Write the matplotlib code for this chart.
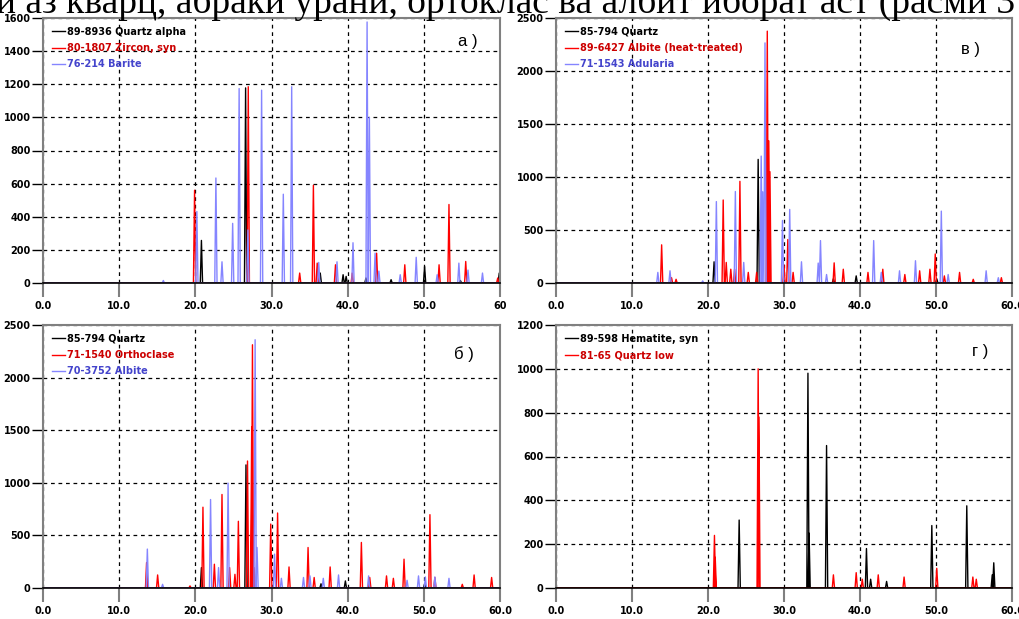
import matplotlib
matplotlib.use('Agg')
import matplotlib.pyplot as plt

# ---- peak lists (2theta, intensity) ----
# a) quartz / zircon / baryte
a_qtz_pos = [20.8, 26.6, 36.4, 39.4, 39.8, 42.4, 45.7, 50.1, 54.8, 59.9]
a_qtz_int = [257, 1178, 60, 50, 40, 30, 20, 100, 15, 60]
a_zrc_pos = [19.9, 26.95, 33.7, 35.5, 36.0, 38.4, 40.6, 43.8, 47.5, 52.0, 53.3, 55.5, 59.7]
a_zrc_int = [560, 1185, 60, 590, 120, 110, 60, 180, 110, 110, 474, 130, 30]
a_brt_pos = [15.8, 20.2, 22.7, 23.5, 24.9, 25.75, 26.9, 28.7, 31.55, 32.65, 36.2, 38.6,
             40.7, 42.55, 42.85, 43.6, 44.1, 46.9, 49.0, 51.75, 54.6, 55.8, 57.7]
a_brt_int = [15, 432, 634, 128, 360, 1174, 320, 1164, 536, 1185, 124, 128,
             243, 1576, 1000, 180, 72, 50, 155, 50, 120, 78, 60]

# в) quartz / albite (heat-treated) / adularia
b_qtz_pos = [20.8, 26.6, 36.5, 39.5, 50.1]
b_qtz_int = [200, 1166, 40, 67, 40]
b_alb_pos = [13.9, 15.2, 15.8, 22.0, 22.4, 23.0, 23.5, 24.2, 25.3, 26.4, 27.8, 28.0, 28.15,
             30.0, 30.5, 31.2, 36.6, 37.8, 41.05, 43.0, 45.9, 47.85, 49.2, 49.9, 51.1,
             53.1, 54.9, 58.6]
b_alb_int = [360, 50, 35, 783, 194, 130, 130, 959, 100, 100, 2376, 1341, 1050,
             170, 410, 100, 190, 130, 100, 130, 80, 115, 130, 274, 67,
             100, 35, 50]
b_adu_pos = [13.4, 15.0, 19.3, 21.1, 23.6, 24.7, 27.0, 27.2, 27.5, 29.8, 30.75, 32.3,
             34.5, 34.8, 35.6, 41.8, 42.8, 45.2, 47.3, 50.7, 51.6, 56.6, 58.2]
b_adu_int = [100, 115, 20, 768, 863, 194, 1197, 860, 2265, 590, 694, 200,
             188, 400, 80, 400, 100, 115, 210, 678, 80, 115, 50]

# б) quartz / orthoclase / albite
c_qtz_pos = [20.8, 26.65, 36.5, 39.7, 50.1]
c_qtz_int = [194, 1170, 40, 67, 40]
c_ort_pos = [13.6, 15.05, 19.3, 21.0, 22.5, 23.5, 24.5, 25.2, 25.65, 26.85, 27.4, 27.5,
             27.7, 29.9, 30.8, 32.3, 34.8, 35.6, 37.7, 41.8, 42.9, 45.1, 46.0, 47.4,
             50.8, 51.45, 55.05, 56.6, 58.9]
c_ort_int = [242, 124, 20, 768, 226, 889, 194, 130, 634, 1207, 1532, 2312,
             194, 608, 713, 200, 385, 100, 200, 433, 100, 115, 92, 274,
             697, 100, 35, 124, 100]
c_alb_pos = [13.7, 15.7, 22.0, 23.05, 24.3, 27.85, 28.1, 30.4, 31.3, 34.2, 35.05, 36.8,
             38.8, 42.75, 47.8, 49.3, 50.2, 51.45, 53.3]
c_alb_int = [370, 35, 841, 194, 997, 2360, 385, 322, 92, 100, 115, 92,
             124, 115, 73, 115, 105, 105, 92]

# г) hematite / quartz low
d_hem_pos = [24.1, 33.15, 33.3, 35.6, 40.85, 41.4, 43.5, 49.45, 54.05, 57.4, 57.6]
d_hem_int = [310, 980, 250, 650, 180, 40, 30, 285, 375, 60, 115]
d_qtz_pos = [20.85, 20.95, 26.6, 26.7, 36.5, 39.5, 40.3, 42.4, 45.8, 50.1, 54.85, 55.3]
d_qtz_int = [240, 140, 1000, 780, 60, 70, 40, 60, 50, 90, 50, 40]

x_ticks = [0, 10, 20, 30, 40, 50, 60]


def profile(pos, inten, w=0.15):
    xs, ys = [0.0], [0.0]
    for p, h in sorted(zip(pos, inten)):
        xs += [p - w, p, p + w]
        ys += [0, h, 0]
    xs.append(60.0)
    ys.append(0.0)
    return xs, ys


fig = plt.figure(figsize=(10.2, 6.19), dpi=100)
W, H = 1020, 619


def make_ax(l, t, r, b):
    return fig.add_axes([l / W, 1 - b / H, (r - l) / W, (b - t) / H])


panels = [
    # rect, ymax, ystep, series, label, label position, last x label
    ((43, 18, 500, 283), 1600, 200,
     [(a_qtz_pos, a_qtz_int, 'black', '89-8936 Quartz alpha', 'black'),
      (a_zrc_pos, a_zrc_int, 'red', '80-1807 Zircon, syn', '#cc0000'),
      (a_brt_pos, a_brt_int, '#8585ff', '76-214 Barite', '#4444cc')],
     'а )', (0.93, 0.91), '60'),
    ((556, 18, 1012, 283), 2500, 500,
     [(b_qtz_pos, b_qtz_int, 'black', '85-794 Quartz', 'black'),
      (b_alb_pos, b_alb_int, 'red', '89-6427 Albite (heat-treated)', '#cc0000'),
      (b_adu_pos, b_adu_int, '#8585ff', '71-1543 Adularia', '#4444cc')],
     'в )', (0.91, 0.88), '60.0'),
    ((43, 325, 500, 588), 2500, 500,
     [(c_qtz_pos, c_qtz_int, 'black', '85-794 Quartz', 'black'),
      (c_ort_pos, c_ort_int, 'red', '71-1540 Orthoclase', '#cc0000'),
      (c_alb_pos, c_alb_int, '#8585ff', '70-3752 Albite', '#4444cc')],
     'б )', (0.92, 0.89), '60.0'),
    ((556, 325, 1012, 588), 1200, 200,
     [(d_hem_pos, d_hem_int, 'black', '89-598 Hematite, syn', 'black'),
      (d_qtz_pos, d_qtz_int, 'red', '81-65 Quartz low', '#cc0000')],
     'г )', (0.93, 0.90), '60.0'),
]

for rect, ymax, ystep, series, lab, lpos, last in panels:
    ax = make_ax(*rect)
    for pos, inten, col, name, tcol in series:
        xs, ys = profile(pos, inten)
        ax.plot(xs, ys, color=col, lw=1.0, label=name)
    ax.set_xlim(0, 60)
    ax.set_ylim(0, ymax)
    ax.set_xticks(x_ticks)
    ax.set_xticklabels(['%.1f' % v for v in x_ticks[:-1]] + [last])
    ax.set_yticks(range(0, ymax + 1, ystep))
    ax.grid(True, color='black', linestyle=(0, (3, 3)), lw=0.9)
    ax.tick_params(axis='x', direction='out', length=10, width=1.5, color='#808080',
                   labelsize=7, pad=3)
    ax.tick_params(axis='y', direction='out', length=8, width=1.0, color='black',
                   labelsize=7, pad=1)
    for t in ax.get_xticklabels() + ax.get_yticklabels():
        t.set_fontweight('bold')
    for s in ['left', 'top', 'right']:
        ax.spines[s].set_color('#808080')
        ax.spines[s].set_linewidth(1.5)
    ax.spines['bottom'].set_color('black')
    ax.spines['bottom'].set_linewidth(1.2)
    leg = ax.legend(loc='upper left', frameon=False, fontsize=7, handlelength=1.4,
                    handletextpad=0.2, labelspacing=0.65, borderaxespad=0.5,
                    bbox_to_anchor=(0.0, 1.0),
                    labelcolor=[s[4] for s in series])
    for t in leg.get_texts():
        t.set_fontweight('bold')
    ax.text(lpos[0], lpos[1], lab, transform=ax.transAxes, fontsize=12,
            ha='center', va='center', family='Liberation Sans')

fig.text(-0.004, 1 - 13 / H, 'и аз кварц, абраки уранӣ, ортоклас ва албит иборат аст (расми 3',
         family='Liberation Serif', fontsize=27, ha='left', va='baseline')

fig.savefig('out.png', dpi=100)
